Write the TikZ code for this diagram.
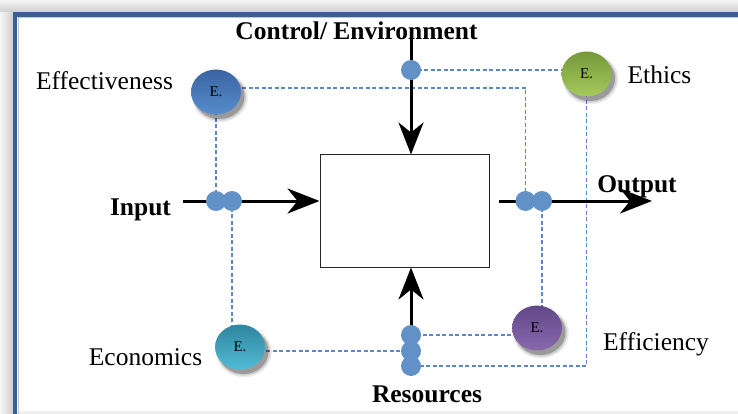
\documentclass[tikz,border=0pt]{standalone}
\usepackage{fontspec}
\setmainfont{Liberation Serif}
\usetikzlibrary{arrows.meta,shapes.geometric,shadows,backgrounds}
\definecolor{dotblue}{RGB}{98,145,200}
\definecolor{dashblue}{RGB}{88,136,200}
\definecolor{frameblue}{RGB}{59,95,142}
\definecolor{effTop}{RGB}{58,100,160}
\definecolor{effBot}{RGB}{88,140,205}
\definecolor{ethTop}{RGB}{118,152,58}
\definecolor{ethBot}{RGB}{165,202,92}
\definecolor{efcTop}{RGB}{98,72,138}
\definecolor{efcBot}{RGB}{135,105,172}
\definecolor{ecoTop}{RGB}{48,132,158}
\definecolor{ecoBot}{RGB}{82,188,214}
\begin{document}
\begin{tikzpicture}[x=1pt,y=-1pt,
  lbl/.style={font=\fontsize{25.5}{26}\selectfont, anchor=base, inner sep=0pt},
  blbl/.style={lbl, font=\fontsize{25.5}{26}\selectfont\bfseries},
  edot/.style={circle, fill=dotblue, minimum size=20pt, inner sep=0pt},
  ebub/.style={ellipse, minimum width=50pt, minimum height=45pt, inner sep=0pt,
    font=\fontsize{15}{15}\selectfont,
    general shadow={fill=black, opacity=0.08, shadow xshift=3.5pt, shadow yshift=-4.5pt, shadow scale=1.12},
    general shadow={fill=black, opacity=0.12, shadow xshift=3.5pt, shadow yshift=-4.5pt, shadow scale=1.06},
    general shadow={fill=black, opacity=0.25, shadow xshift=3.5pt, shadow yshift=-4.5pt, shadow scale=1.0}},
  dashc/.style={draw=dashblue, line width=1.3pt, dash pattern=on 4pt off 2.5pt},
  flow/.style={draw=black, line width=3pt, -{Stealth[length=32pt,width=25pt,inset=10pt]}},
]
\useasboundingbox (0,0) rectangle (738,414);

% process box
\node[draw=black!85, line width=1pt, minimum width=169pt, minimum height=112pt, inner sep=0pt] (box) at (404.5,211) {};

% small junction dots
\node[edot] (dotC) at (411,70) {};
\node[edot] (in1) at (216,201) {};
\node[edot] (in2) at (232,201) {};
\node[edot] (out1) at (525.5,201) {};
\node[edot] (out2) at (542,201) {};
\node[edot] (res1) at (411,335) {};
\node[edot] (res2) at (411,351) {};
\node[edot] (res3) at (411,366) {};

% E bubbles
\node[ebub, top color=effTop, bottom color=effBot] (eff) at (216,92) {E.};
\node[ebub, top color=ethTop, bottom color=ethBot] (eth) at (586.5,74) {E.};
\node[ebub, top color=efcTop, bottom color=efcBot] (efc) at (537,328) {E.};
\node[ebub, top color=ecoTop, bottom color=ecoBot] (eco) at (240,347) {E.};

% labels
\node[blbl] (lctrl) at (356.5,40) {Control/ Environment};
\node[lbl] (leff) at (104.5,90) {Effectiveness};
\node[lbl] (leth) at (659.5,84) {Ethics};
\node[blbl] (lin) at (140.5,215) {Input};
\node[blbl] (lout) at (637,193) {Output};
\node[lbl] (lefc) at (656,350) {Efficiency};
\node[lbl] (leco) at (145.5,365) {Economics};
\node[blbl] (lres) at (427,402) {Resources};

% connector end coordinates
\coordinate (ctop) at (411,38);
\coordinate (inS) at (183,201);
\coordinate (outS) at (499,201);
\coordinate (outE) at (652,201);
\coordinate (resS) at (411,326);

\begin{scope}[on background layer]
\clip (0,0) rectangle (738,414);
\fill[white] (0,0) rectangle (738,414);
\shade[top color=gray!8, bottom color=gray!38] (0,0) rectangle (738,12.5);
\shade[left color=gray!8, right color=gray!38] (0,12.5) rectangle (13,414);
\fill[gray!12] (17,411) rectangle (738,414);
\draw[frameblue, line width=4.5pt] (15.2,14.7) rectangle (780,460);
\draw[frameblue!35, line width=0.8pt] (18,17.5) rectangle (780,460);
\end{scope}

\begin{scope}[on background layer]
% dashed links
\draw[dashc] (dotC.center) -- (dotC.center -| eth.center);
\draw[dashc] ([yshift=4pt]eff.center) -| (out1.center);
\draw[dashc] (eff.center) -- (in1.center);
\draw[dashc] (in2.center) -- (in2.center |- eco.center);
\draw[dashc] (res2.center -| eco.center) -- (res2.center);
\draw[dashc] (out2.center) -- (out2.center |- efc.center);
\draw[dashc] (res1.center -| efc.center) -- (res1.center);
\draw[dashc] (eth.center) |- (res3.center);
% flows
\draw[flow] (ctop) -- (ctop |- box.north);
\draw[flow] (inS) -- (inS -| box.west);
\draw[flow] (outS) -- (outE);
\draw[flow] (resS) -- (resS |- box.south);
\end{scope}
\end{tikzpicture}
\end{document}
